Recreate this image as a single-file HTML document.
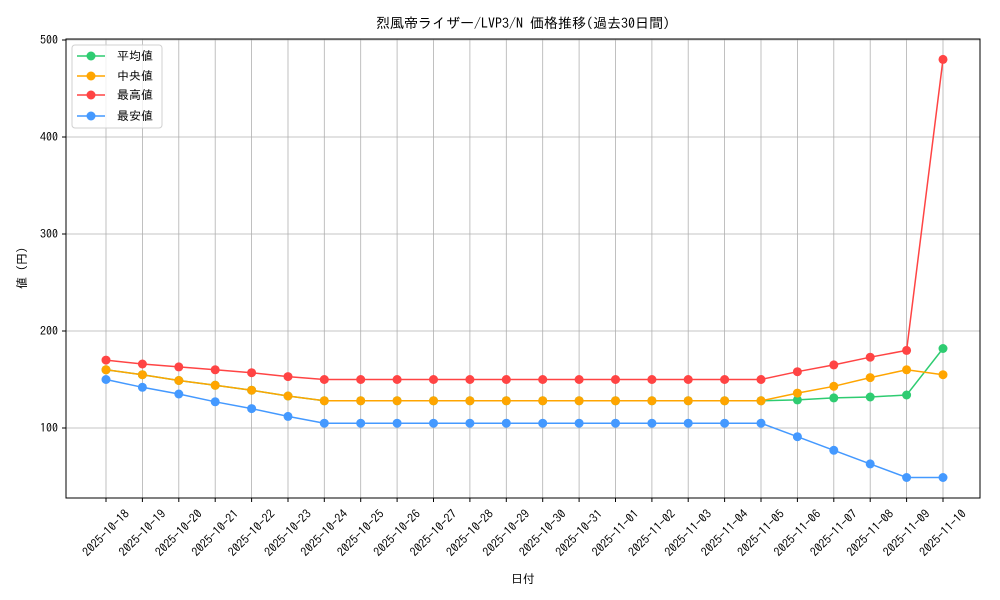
<!DOCTYPE html>
<html><head><meta charset="utf-8"><style>body{margin:0;background:#fff}svg{display:block;font-family:"IPAGothic","Noto Sans CJK JP",sans-serif}</style></head><body>
<svg width="1000" height="600" viewBox="0 0 1000 600" xmlns="http://www.w3.org/2000/svg">
<defs>
<marker id="mg" markerUnits="userSpaceOnUse" markerWidth="12" markerHeight="12" refX="6" refY="6"><circle cx="6" cy="6" r="4.5" fill="#2ecc71"/></marker>
<marker id="mo" markerUnits="userSpaceOnUse" markerWidth="12" markerHeight="12" refX="6" refY="6"><circle cx="6" cy="6" r="4.5" fill="#ffa500"/></marker>
<marker id="mr" markerUnits="userSpaceOnUse" markerWidth="12" markerHeight="12" refX="6" refY="6"><circle cx="6" cy="6" r="4.5" fill="#ff4444"/></marker>
<marker id="mb" markerUnits="userSpaceOnUse" markerWidth="12" markerHeight="12" refX="6" refY="6"><circle cx="6" cy="6" r="4.5" fill="#4499ff"/></marker>
</defs>
<text x="523" y="28" font-size="14" text-anchor="middle">烈風帝ライザー/LVP3/N 価格推移(過去30日間)</text>
<g stroke="#b0b0b0" stroke-width="0.8">
<line x1="66" x2="980" y1="40" y2="40"/><line x1="66" x2="980" y1="137" y2="137"/><line x1="66" x2="980" y1="234" y2="234"/><line x1="66" x2="980" y1="331" y2="331"/><line x1="66" x2="980" y1="428" y2="428"/>
<line x1="106" x2="106" y1="39" y2="498"/><line x1="142.4" x2="142.4" y1="39" y2="498"/><line x1="178.8" x2="178.8" y1="39" y2="498"/><line x1="215.2" x2="215.2" y1="39" y2="498"/><line x1="251.6" x2="251.6" y1="39" y2="498"/><line x1="288" x2="288" y1="39" y2="498"/><line x1="324.3" x2="324.3" y1="39" y2="498"/><line x1="360.7" x2="360.7" y1="39" y2="498"/><line x1="397.1" x2="397.1" y1="39" y2="498"/><line x1="433.5" x2="433.5" y1="39" y2="498"/><line x1="469.9" x2="469.9" y1="39" y2="498"/><line x1="506.3" x2="506.3" y1="39" y2="498"/><line x1="542.7" x2="542.7" y1="39" y2="498"/><line x1="579.1" x2="579.1" y1="39" y2="498"/><line x1="615.5" x2="615.5" y1="39" y2="498"/><line x1="651.9" x2="651.9" y1="39" y2="498"/><line x1="688.2" x2="688.2" y1="39" y2="498"/><line x1="724.6" x2="724.6" y1="39" y2="498"/><line x1="761" x2="761" y1="39" y2="498"/><line x1="797.4" x2="797.4" y1="39" y2="498"/><line x1="833.8" x2="833.8" y1="39" y2="498"/><line x1="870.2" x2="870.2" y1="39" y2="498"/><line x1="906.6" x2="906.6" y1="39" y2="498"/><line x1="943" x2="943" y1="39" y2="498"/>
</g>
<g fill="none" stroke-width="1.5">
<polyline stroke="#2ecc71" marker-start="url(#mg)" marker-mid="url(#mg)" marker-end="url(#mg)" points="106,369.8 142.4,374.7 178.8,380.5 215.2,385.3 251.6,390.2 288,396 324.3,400.8 360.7,400.8 397.1,400.8 433.5,400.8 469.9,400.8 506.3,400.8 542.7,400.8 579.1,400.8 615.5,400.8 651.9,400.8 688.2,400.8 724.6,400.8 761,400.8 797.4,399.9 833.8,397.9 870.2,397 906.6,395 943,348.5"/>
<polyline stroke="#ffa500" marker-start="url(#mo)" marker-mid="url(#mo)" marker-end="url(#mo)" points="106,369.8 142.4,374.7 178.8,380.5 215.2,385.3 251.6,390.2 288,396 324.3,400.8 360.7,400.8 397.1,400.8 433.5,400.8 469.9,400.8 506.3,400.8 542.7,400.8 579.1,400.8 615.5,400.8 651.9,400.8 688.2,400.8 724.6,400.8 761,400.8 797.4,393.1 833.8,386.3 870.2,377.6 906.6,369.8 943,374.7"/>
<polyline stroke="#ff4444" marker-start="url(#mr)" marker-mid="url(#mr)" marker-end="url(#mr)" points="106,360.1 142.4,364 178.8,366.9 215.2,369.8 251.6,372.7 288,376.6 324.3,379.5 360.7,379.5 397.1,379.5 433.5,379.5 469.9,379.5 506.3,379.5 542.7,379.5 579.1,379.5 615.5,379.5 651.9,379.5 688.2,379.5 724.6,379.5 761,379.5 797.4,371.7 833.8,364.9 870.2,357.2 906.6,350.4 943,59.4"/>
<polyline stroke="#4499ff" marker-start="url(#mb)" marker-mid="url(#mb)" marker-end="url(#mb)" points="106,379.5 142.4,387.3 178.8,394 215.2,401.8 251.6,408.6 288,416.4 324.3,423.2 360.7,423.2 397.1,423.2 433.5,423.2 469.9,423.2 506.3,423.2 542.7,423.2 579.1,423.2 615.5,423.2 651.9,423.2 688.2,423.2 724.6,423.2 761,423.2 797.4,436.7 833.8,450.3 870.2,463.9 906.6,477.5 943,477.5"/>
</g>
<rect x="66" y="39" width="914" height="459" fill="none" stroke="#000" stroke-width="1"/>
<g stroke="#000"><line x1="62" x2="66" y1="40" y2="40"/><line x1="62" x2="66" y1="137" y2="137"/><line x1="62" x2="66" y1="234" y2="234"/><line x1="62" x2="66" y1="331" y2="331"/><line x1="62" x2="66" y1="428" y2="428"/></g>
<g font-size="12" text-anchor="end"><text x="58" y="44">500</text><text x="58" y="141">400</text><text x="58" y="238">300</text><text x="58" y="335">200</text><text x="58" y="432">100</text></g>
<g stroke="#000"><line x1="106" x2="106" y1="498" y2="502"/><line x1="142.4" x2="142.4" y1="498" y2="502"/><line x1="178.8" x2="178.8" y1="498" y2="502"/><line x1="215.2" x2="215.2" y1="498" y2="502"/><line x1="251.6" x2="251.6" y1="498" y2="502"/><line x1="288" x2="288" y1="498" y2="502"/><line x1="324.3" x2="324.3" y1="498" y2="502"/><line x1="360.7" x2="360.7" y1="498" y2="502"/><line x1="397.1" x2="397.1" y1="498" y2="502"/><line x1="433.5" x2="433.5" y1="498" y2="502"/><line x1="469.9" x2="469.9" y1="498" y2="502"/><line x1="506.3" x2="506.3" y1="498" y2="502"/><line x1="542.7" x2="542.7" y1="498" y2="502"/><line x1="579.1" x2="579.1" y1="498" y2="502"/><line x1="615.5" x2="615.5" y1="498" y2="502"/><line x1="651.9" x2="651.9" y1="498" y2="502"/><line x1="688.2" x2="688.2" y1="498" y2="502"/><line x1="724.6" x2="724.6" y1="498" y2="502"/><line x1="761" x2="761" y1="498" y2="502"/><line x1="797.4" x2="797.4" y1="498" y2="502"/><line x1="833.8" x2="833.8" y1="498" y2="502"/><line x1="870.2" x2="870.2" y1="498" y2="502"/><line x1="906.6" x2="906.6" y1="498" y2="502"/><line x1="943" x2="943" y1="498" y2="502"/></g>
<g font-size="12" text-anchor="middle">
<text transform="translate(106,533) rotate(-45)" dy="4">2025-10-18</text>
<text transform="translate(142.4,533) rotate(-45)" dy="4">2025-10-19</text>
<text transform="translate(178.8,533) rotate(-45)" dy="4">2025-10-20</text>
<text transform="translate(215.2,533) rotate(-45)" dy="4">2025-10-21</text>
<text transform="translate(251.6,533) rotate(-45)" dy="4">2025-10-22</text>
<text transform="translate(288,533) rotate(-45)" dy="4">2025-10-23</text>
<text transform="translate(324.3,533) rotate(-45)" dy="4">2025-10-24</text>
<text transform="translate(360.7,533) rotate(-45)" dy="4">2025-10-25</text>
<text transform="translate(397.1,533) rotate(-45)" dy="4">2025-10-26</text>
<text transform="translate(433.5,533) rotate(-45)" dy="4">2025-10-27</text>
<text transform="translate(469.9,533) rotate(-45)" dy="4">2025-10-28</text>
<text transform="translate(506.3,533) rotate(-45)" dy="4">2025-10-29</text>
<text transform="translate(542.7,533) rotate(-45)" dy="4">2025-10-30</text>
<text transform="translate(579.1,533) rotate(-45)" dy="4">2025-10-31</text>
<text transform="translate(615.5,533) rotate(-45)" dy="4">2025-11-01</text>
<text transform="translate(651.9,533) rotate(-45)" dy="4">2025-11-02</text>
<text transform="translate(688.2,533) rotate(-45)" dy="4">2025-11-03</text>
<text transform="translate(724.6,533) rotate(-45)" dy="4">2025-11-04</text>
<text transform="translate(761,533) rotate(-45)" dy="4">2025-11-05</text>
<text transform="translate(797.4,533) rotate(-45)" dy="4">2025-11-06</text>
<text transform="translate(833.8,533) rotate(-45)" dy="4">2025-11-07</text>
<text transform="translate(870.2,533) rotate(-45)" dy="4">2025-11-08</text>
<text transform="translate(906.6,533) rotate(-45)" dy="4">2025-11-09</text>
<text transform="translate(943,533) rotate(-45)" dy="4">2025-11-10</text>
</g>
<text x="523" y="583" font-size="12" text-anchor="middle">日付</text>
<text transform="translate(26,268) rotate(-90)" font-size="12" text-anchor="middle">値 (円)</text>
<rect x="72" y="45" width="90" height="83" rx="3" fill="#fff" fill-opacity="0.8" stroke="#d0d0d0"/>
<g stroke-width="1.5">
<line x1="77" x2="105" y1="56" y2="56" stroke="#2ecc71"/><circle cx="91" cy="56" r="4.5" fill="#2ecc71"/>
<line x1="77" x2="105" y1="76" y2="76" stroke="#ffa500"/><circle cx="91" cy="76" r="4.5" fill="#ffa500"/>
<line x1="77" x2="105" y1="95" y2="95" stroke="#ff4444"/><circle cx="91" cy="95" r="4.5" fill="#ff4444"/>
<line x1="77" x2="105" y1="116" y2="116" stroke="#4499ff"/><circle cx="91" cy="116" r="4.5" fill="#4499ff"/>
</g>
<g font-size="12"><text x="117" y="60">平均値</text><text x="117" y="80">中央値</text><text x="117" y="99">最高値</text><text x="117" y="120">最安値</text></g>
</svg>
</body></html>
